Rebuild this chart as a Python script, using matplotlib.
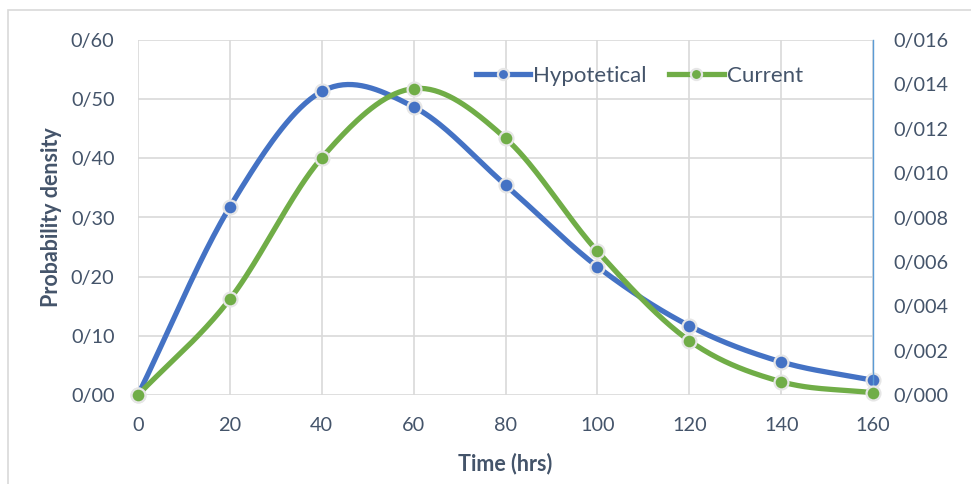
import numpy as np
import matplotlib.pyplot as plt
from matplotlib.patches import Rectangle
from matplotlib.ticker import FuncFormatter

# time points (hrs)
time_hrs = [0, 20, 40, 60, 80, 100, 120, 140, 160]
# left axis series
hypotetical = [0.0, 0.318, 0.513, 0.487, 0.355, 0.217, 0.117, 0.056, 0.025]
# right axis series
current = [0.0, 0.00432, 0.01069, 0.01381, 0.01157, 0.00648, 0.00245, 0.00060, 0.00010]

BLUE = '#4472C4'
GREEN = '#70AD47'
TEXT = '#44546A'
GRID = '#D9D9D9'

plt.rcParams['font.family'] = ['Lato', 'DejaVu Sans']


def smooth(x, y, n=40):
    """Catmull-Rom spline through the points, like a smoothed line chart."""
    x = np.asarray(x, float)
    y = np.asarray(y, float)
    px = np.concatenate([[2 * x[0] - x[1]], x, [2 * x[-1] - x[-2]]])
    py = np.concatenate([[2 * y[0] - y[1]], y, [2 * y[-1] - y[-2]]])
    xs, ys = [], []
    t = np.linspace(0, 1, n)
    for i in range(1, len(px) - 2):
        for p, out in ((px, xs), (py, ys)):
            p0, p1, p2, p3 = p[i - 1], p[i], p[i + 1], p[i + 2]
            out.append(0.5 * (2 * p1 + (-p0 + p2) * t
                              + (2 * p0 - 5 * p1 + 4 * p2 - p3) * t ** 2
                              + (-p0 + 3 * p1 - 3 * p2 + p3) * t ** 3))
    return np.concatenate(xs), np.concatenate(ys)


fig = plt.figure(figsize=(9.71, 4.84), dpi=100)
fig.patches.append(Rectangle((8 / 971, -0.1), 1.1, 1 - 10 / 484 + 0.1,
                             transform=fig.transFigure, fill=False,
                             edgecolor=GRID, linewidth=1.2))

ax = fig.add_axes([138 / 971, 1 - 395 / 484, (873 - 138) / 971, (395 - 40) / 484])
ax2 = ax.twinx()

lw = 3.8
mk = dict(marker='o', markersize=10, markeredgecolor='#E6E6E6', markeredgewidth=1.6)

sx, sy = smooth(time_hrs, hypotetical)
ax.plot(sx, sy, color=BLUE, lw=lw, solid_capstyle='round', zorder=3)
ax.plot(time_hrs, hypotetical, ls='none', color=BLUE, zorder=4, clip_on=False, **mk)

sx, sy = smooth(time_hrs, current)
ax2.plot(sx, sy, color=GREEN, lw=lw, solid_capstyle='round', zorder=3)
ax2.plot(time_hrs, current, ls='none', color=GREEN, zorder=4, clip_on=False, **mk)

ax.set_xlim(0, 160)
ax.set_ylim(0, 0.6)
ax2.set_ylim(0, 0.016)
ax.set_xticks(time_hrs)
ax.set_yticks(np.arange(0, 0.61, 0.1))
ax2.set_yticks(np.arange(0, 0.0161, 0.002))
ax.yaxis.set_major_formatter(FuncFormatter(lambda v, p: f'{v:.2f}'.replace('.', '/')))
ax2.yaxis.set_major_formatter(FuncFormatter(lambda v, p: f'{v:.3f}'.replace('.', '/')))

ax.grid(True, color=GRID, linewidth=1.2)
ax.set_axisbelow(True)
for a in (ax, ax2):
    for s in a.spines.values():
        s.set_visible(False)
    a.tick_params(length=0, labelsize=14.3, labelcolor=TEXT)
ax2.spines['right'].set_visible(True)
ax2.spines['right'].set_color('#5B9BD5')
ax2.spines['right'].set_linewidth(1)
ax.tick_params(axis='y', pad=17)
ax.tick_params(axis='x', pad=16)
ax2.tick_params(axis='y', pad=15)

ax.set_ylabel('Probability density', fontsize=15.5, fontweight='bold', color=TEXT, labelpad=6)
ax.set_xlabel('Time (hrs)', fontsize=15.5, fontweight='bold', color=TEXT, labelpad=13)

h1 = ax.plot([], [], color=BLUE, lw=lw, **mk)[0]
h2 = ax.plot([], [], color=GREEN, lw=lw, **mk)[0]
ax2.legend([h1, h2], ['Hypotetical', 'Current'], loc='center', bbox_to_anchor=(0.682, 0.9),
           ncol=2, frameon=False, fontsize=16, labelcolor=TEXT, handlelength=2.45,
           handletextpad=0.15, columnspacing=1.0, markerscale=0.8)

fig.savefig('out.png', dpi=100)
